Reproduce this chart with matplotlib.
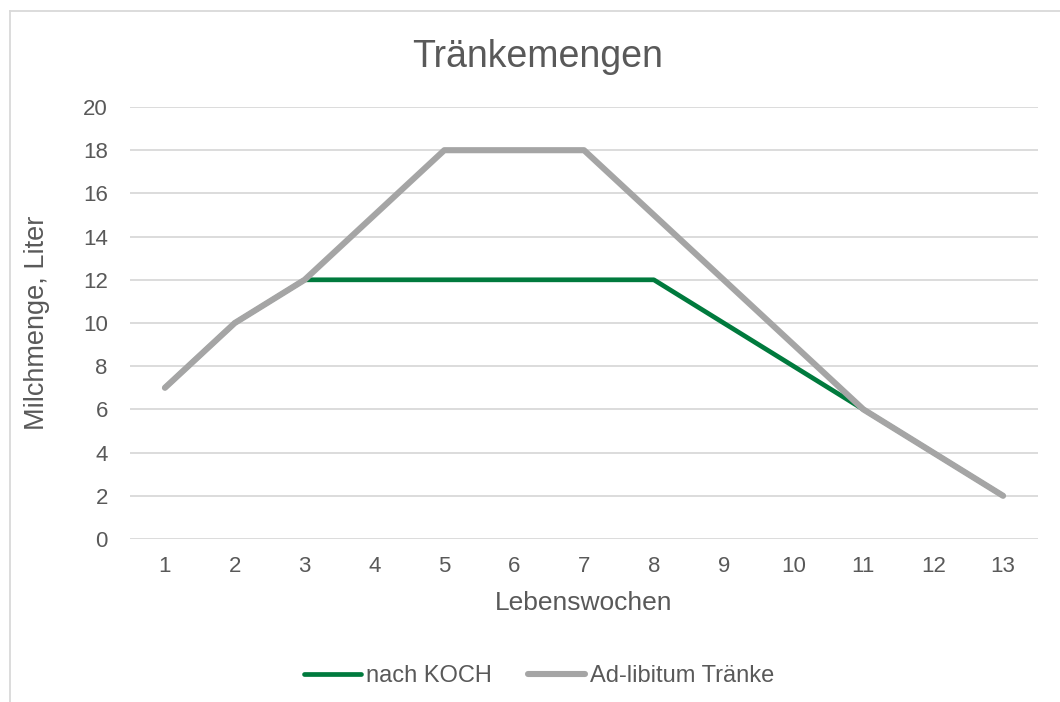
import matplotlib
matplotlib.use('Agg')
import matplotlib.pyplot as plt
from matplotlib.lines import Line2D

weeks = [str(w) for w in range(1, 14)]
nach_koch = [7, 10, 12, 12, 12, 12, 12, 12, 10, 8, 6, 4, 2]
ad_libitum = [7, 10, 12, 15, 18, 18, 18, 15, 12, 9, 6, 4, 2]
y_ticks = list(range(0, 21, 2))

TEXT = '#595959'
GREEN = '#007A3D'
GREY = '#A5A5A5'

plt.rcParams['font.family'] = ['Liberation Sans', 'DejaVu Sans']

fig = plt.figure(figsize=(10.6, 7.02), dpi=100)
fig.patch.set_facecolor('white')
ax = fig.add_axes([130 / 1060, 1 - 539 / 702, 908 / 1060, 432 / 702])

x = list(range(len(weeks)))
ax.plot(x, nach_koch, color=GREEN, lw=3.4, solid_capstyle='round',
        solid_joinstyle='round', label='nach KOCH', zorder=3)
ax.plot(x, ad_libitum, color=GREY, lw=4.4, solid_capstyle='round',
        solid_joinstyle='round', label='Ad-libitum Tränke', zorder=4)

ax.set_xlim(-0.5, len(weeks) - 0.5)
ax.set_ylim(0, 20)
ax.set_xticks(x)
ax.set_xticklabels(weeks)
ax.set_yticks(y_ticks)
ax.grid(axis='y', color='#D9D9D9', lw=1.3)
ax.set_axisbelow(True)
for s in ax.spines.values():
    s.set_visible(False)
ax.tick_params(length=0, labelsize=16, labelcolor=TEXT)
ax.tick_params(axis='x', pad=12)
ax.tick_params(axis='y', pad=16)

ax.set_xlabel('Lebenswochen', fontsize=19, color=TEXT, labelpad=10)
ax.set_ylabel('Milchmenge, Liter', fontsize=19.5, color=TEXT, labelpad=24)
fig.text(538 / 1060, 1 - 57 / 702, 'Tränkemengen', ha='center', va='center',
         fontsize=27, color=TEXT)

ax.legend(loc='center', bbox_to_anchor=(539 / 1060, 1 - 676 / 702), bbox_transform=fig.transFigure,
          ncol=2, frameon=False, fontsize=17, labelcolor=TEXT,
          handlelength=2.4, handletextpad=0.2, columnspacing=1.55)

# chart area border (left and top visible)
fig.add_artist(Line2D([9.5 / 1060, 9.5 / 1060], [0, 1 - 11 / 702], color='#D9D9D9', lw=1.3))
fig.add_artist(Line2D([9.5 / 1060, 1], [1 - 11 / 702, 1 - 11 / 702], color='#D9D9D9', lw=1.3))

fig.savefig('out.png', dpi=100, facecolor='white')
